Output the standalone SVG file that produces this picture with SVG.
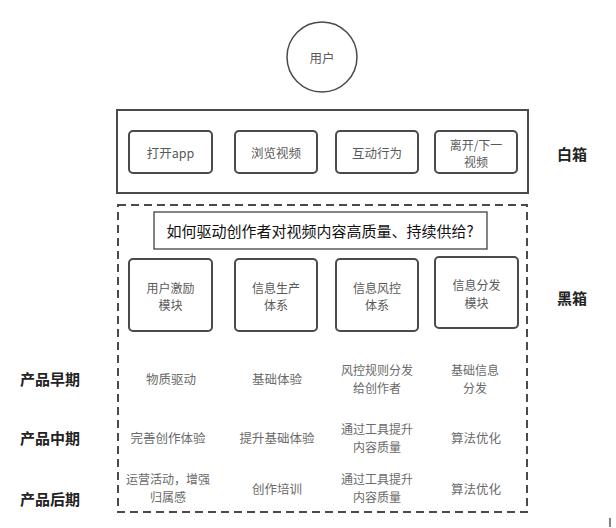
<svg xmlns="http://www.w3.org/2000/svg" width="616" height="528" viewBox="0 0 616 528">
<style>
text{font-family:"Noto Sans CJK SC","Noto Sans",sans-serif;text-anchor:middle;dominant-baseline:central}
.box{fill:#fff;stroke:#4a4a4a;stroke-width:2}
.t{font-size:12.5px;fill:#595959}
.r{font-size:12.5px;fill:#6a6a6a}
.m{font-size:12px}
.b{font-size:15px;font-weight:bold;fill:#222}
</style>
<rect width="616" height="528" fill="#fff"/>
<g id="user">
<circle cx="322" cy="57" r="35" fill="#fff" stroke="#4a4a4a" stroke-width="1.5"/>
<text class="t" x="322" y="57" font-size="12">用户</text>
</g>
<g id="whitebox">
<rect x="117" y="110" width="411" height="83" fill="none" stroke="#4a4a4a" stroke-width="2"/>
</g>
<g id="n1"><rect class="box" x="129" y="131" width="83" height="42" rx="4"/><text class="t" x="170.5" y="152">打开app</text></g>
<g id="n2"><rect class="box" x="235" y="131" width="82" height="42" rx="4"/><text class="t" x="276" y="152">浏览视频</text></g>
<g id="n3"><rect class="box" x="336" y="131" width="82" height="42" rx="4"/><text class="t" x="377" y="152">互动行为</text></g>
<g id="n4"><rect class="box" x="435" y="131" width="82" height="42" rx="4"/><text class="t m" x="476" y="144">离开/下一</text><text class="t m" x="476" y="161.5">视频</text></g>
<g id="blackbox">
<rect x="118" y="205" width="409" height="307" fill="none" stroke="#4a4a4a" stroke-width="2" stroke-dasharray="8,5"/>
</g>
<g id="question">
<rect x="154" y="212" width="333" height="37" fill="#fff" stroke="#333" stroke-width="1.2"/>
<text x="320" y="230.5" font-size="15" fill="#111">如何驱动创作者对视频内容高质量、持续供给?</text>
</g>
<g id="m1"><rect class="box" x="129" y="259" width="83" height="72" rx="4"/><text class="t m" x="170.5" y="287">用户激励</text><text class="t m" x="170.5" y="304.5">模块</text></g>
<g id="m2"><rect class="box" x="235" y="259" width="82" height="72" rx="4"/><text class="t m" x="276" y="287">信息生产</text><text class="t m" x="276" y="304.5">体系</text></g>
<g id="m3"><rect class="box" x="336" y="259" width="82" height="72" rx="4"/><text class="t m" x="377" y="287">信息风控</text><text class="t m" x="377" y="304.5">体系</text></g>
<g id="m4"><rect class="box" x="435" y="257" width="83" height="71" rx="4"/><text class="t m" x="476.5" y="284.5">信息分发</text><text class="t m" x="476.5" y="302">模块</text></g>
<g id="labels">
<text class="b" x="572" y="153">白箱</text>
<text class="b" x="572" y="297">黑箱</text>
<text class="b" x="50" y="378">产品早期</text>
<text class="b" x="50" y="437">产品中期</text>
<text class="b" x="50" y="498">产品后期</text>
</g>
<g id="rows">
<text class="r" x="171" y="378">物质驱动</text>
<text class="r" x="277" y="378">基础体验</text>
<text class="r m" x="377" y="369.5">风控规则分发</text>
<text class="r m" x="377" y="387">给创作者</text>
<text class="r m" x="475" y="369.5">基础信息</text>
<text class="r m" x="475" y="387">分发</text>
<text class="r" x="168" y="437">完善创作体验</text>
<text class="r" x="277" y="437">提升基础体验</text>
<text class="r m" x="377" y="428.5">通过工具提升</text>
<text class="r m" x="377" y="446">内容质量</text>
<text class="r" x="476" y="437">算法优化</text>
<text class="r m" x="168" y="478.5">运营活动，增强</text>
<text class="r m" x="168" y="496">归属感</text>
<text class="r" x="277" y="488">创作培训</text>
<text class="r m" x="377" y="478.5">通过工具提升</text>
<text class="r m" x="377" y="496">内容质量</text>
<text class="r" x="476" y="488">算法优化</text>
</g>
<line x1="610" y1="518" x2="610" y2="527" stroke="#333" stroke-width="1.2"/>
</svg>
